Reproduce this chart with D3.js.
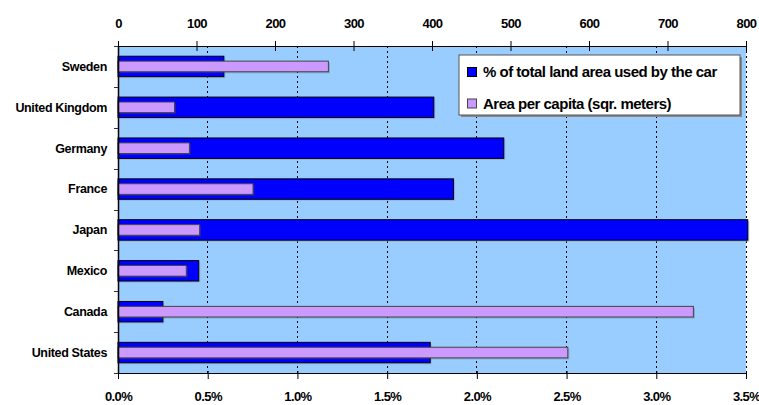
<!DOCTYPE html>
<html>
<head>
<meta charset="utf-8">
<script src="https://cdn.jsdelivr.net/npm/d3@7"></script>
<style>
  html, body { margin: 0; padding: 0; background: #fff; }
  svg { display: block; font-family: "Liberation Sans", Arial, sans-serif; font-weight: bold; }
</style>
</head>
<body>
<svg id="chart" width="759" height="405"></svg>
<script>
// Countries, top to bottom
const countries = ["Sweden", "United Kingdom", "Germany", "France", "Japan", "Mexico", "Canada", "United States"];
// Share of total land area used by the car (%)
const landShare = [0.59, 1.76, 2.15, 1.87, 3.51, 0.45, 0.25, 1.74];
// Car area per capita (square metres)
const areaPerCapita = [268, 72, 91, 172, 104, 87, 733, 573];
// Axis ticks
const pctTicks = [0, 0.5, 1.0, 1.5, 2.0, 2.5, 3.0, 3.5];
const areaTicks = [0, 100, 200, 300, 400, 500, 600, 700, 800];
const seriesNames = ["% of total land area used by the car", "Area per capita (sqr. meters)"];

const svg = d3.select("#chart");
const m = { left: 118, right: 746, top: 46, bottom: 373 };

const xPct = d3.scaleLinear().domain([0, 3.5]).range([m.left, m.right]);
const xArea = d3.scaleLinear().domain([0, 800]).range([m.left, m.right]);
const y = d3.scaleBand().domain(countries).range([m.top, m.bottom]).padding(0);

// plot background
svg.append("rect")
  .attr("x", m.left).attr("y", m.top)
  .attr("width", m.right - m.left).attr("height", m.bottom - m.top)
  .attr("fill", "#99CCFF");

// dotted gridlines on the percentage scale
svg.append("g").selectAll("line").data(pctTicks.slice(1)).join("line")
  .attr("x1", d => xPct(d)).attr("x2", d => xPct(d))
  .attr("y1", m.top).attr("y2", m.bottom)
  .attr("stroke", "#000").attr("stroke-width", 1)
  .attr("stroke-dasharray", "2,3")
  .attr("shape-rendering", "crispEdges");

const bars = svg.append("g");
const blueH = y.bandwidth() * 0.5;
const purpleH = y.bandwidth() * 0.26;

// land share bars (wide, blue)
bars.selectAll(".pct-shadow").data(countries).join("rect")
  .attr("x", xPct(0) + 1.5)
  .attr("y", d => y(d) + (y.bandwidth() - blueH) / 2 + 1.5)
  .attr("width", (d, i) => xPct(landShare[i]) - xPct(0))
  .attr("height", blueH)
  .attr("fill", "#7f9fbf").attr("opacity", 0.5);
bars.selectAll(".pct").data(countries).join("rect")
  .attr("x", xPct(0))
  .attr("y", d => y(d) + (y.bandwidth() - blueH) / 2)
  .attr("width", (d, i) => xPct(landShare[i]) - xPct(0))
  .attr("height", blueH)
  .attr("fill", "#0000FF").attr("stroke", "#000").attr("stroke-width", 1);

// per-capita area bars (narrow, lilac)
bars.selectAll(".area-shadow").data(countries).join("rect")
  .attr("x", xArea(0) + 1.5)
  .attr("y", d => y(d) + (y.bandwidth() - purpleH) / 2 + 1.5)
  .attr("width", (d, i) => xArea(areaPerCapita[i]) - xArea(0))
  .attr("height", purpleH)
  .attr("fill", "#555").attr("opacity", 0.3);
bars.selectAll(".area").data(countries).join("rect")
  .attr("x", xArea(0))
  .attr("y", d => y(d) + (y.bandwidth() - purpleH) / 2)
  .attr("width", (d, i) => xArea(areaPerCapita[i]) - xArea(0))
  .attr("height", purpleH)
  .attr("fill", "#CC99FF").attr("stroke", "#444").attr("stroke-width", 1);

// top axis: area per capita
const topAxis = svg.append("g").attr("transform", `translate(0,${m.top})`)
  .call(d3.axisTop(xArea).tickValues(areaTicks).tickSize(5).tickPadding(13).tickFormat(d3.format("d")));
topAxis.select(".domain").attr("d", `M${m.left - 3},0.5H${m.right}`).attr("stroke", "#000");
topAxis.selectAll(".tick line").attr("y1", 5).attr("y2", -5).attr("stroke", "#000");
topAxis.selectAll(".tick text")
  .attr("font-size", 13).attr("font-weight", "bold").attr("letter-spacing", -0.6)
  .attr("fill", "#000").attr("font-family", "Liberation Sans, Arial, sans-serif");

// bottom axis: land share
const botAxis = svg.append("g").attr("transform", `translate(0,${m.bottom})`)
  .call(d3.axisBottom(xPct).tickValues(pctTicks).tickSize(6).tickPadding(13).tickFormat(d => d3.format(".1f")(d) + "%"));
botAxis.select(".domain").attr("d", `M${m.left},0.5H${m.right}`).attr("stroke", "#000");
botAxis.selectAll(".tick line").attr("y1", -2).attr("stroke", "#000");
botAxis.selectAll(".tick text")
  .attr("font-size", 13).attr("font-weight", "bold").attr("letter-spacing", -0.6)
  .attr("fill", "#000").attr("font-family", "Liberation Sans, Arial, sans-serif");

// left axis: countries
const catTicks = countries.map(c => y(c)).concat([m.bottom]);
const leftAxis = svg.append("g");
leftAxis.append("line")
  .attr("x1", m.left + 0.5).attr("x2", m.left + 0.5)
  .attr("y1", m.top).attr("y2", m.bottom + 1)
  .attr("stroke", "#000").attr("stroke-width", 1.5);
leftAxis.selectAll(".ctick").data(catTicks).join("line")
  .attr("x1", m.left - 4).attr("x2", m.left)
  .attr("y1", d => Math.round(d) + 0.5).attr("y2", d => Math.round(d) + 0.5)
  .attr("stroke", "#333");
leftAxis.selectAll("text").data(countries).join("text")
  .attr("x", m.left - 11)
  .attr("y", d => y(d) + y.bandwidth() / 2)
  .attr("dy", "0.35em")
  .attr("text-anchor", "end")
  .attr("font-size", 12.5).attr("letter-spacing", -0.35)
  .text(d => d);

// legend
const lg = svg.append("g").attr("transform", "translate(459,55)");
lg.append("rect").attr("x", 2).attr("y", 2).attr("width", 281).attr("height", 60).attr("fill", "#888");
lg.append("rect").attr("x", 0).attr("y", 0).attr("width", 281).attr("height", 60)
  .attr("fill", "#fff").attr("stroke", "#555");
const legendColors = [["#0000FF", "#000"], ["#CC99FF", "#444"]];
seriesNames.forEach((name, i) => {
  const cy = 17 + i * 31.5;
  lg.append("rect").attr("x", 8.5).attr("y", cy - 4.5).attr("width", 9).attr("height", 9)
    .attr("fill", legendColors[i][0]).attr("stroke", legendColors[i][1]);
  lg.append("text").attr("x", 24).attr("y", cy).attr("dy", "0.36em")
    .attr("font-size", 15).attr("letter-spacing", -0.5)
    .text(name);
});
</script>
</body>
</html>
